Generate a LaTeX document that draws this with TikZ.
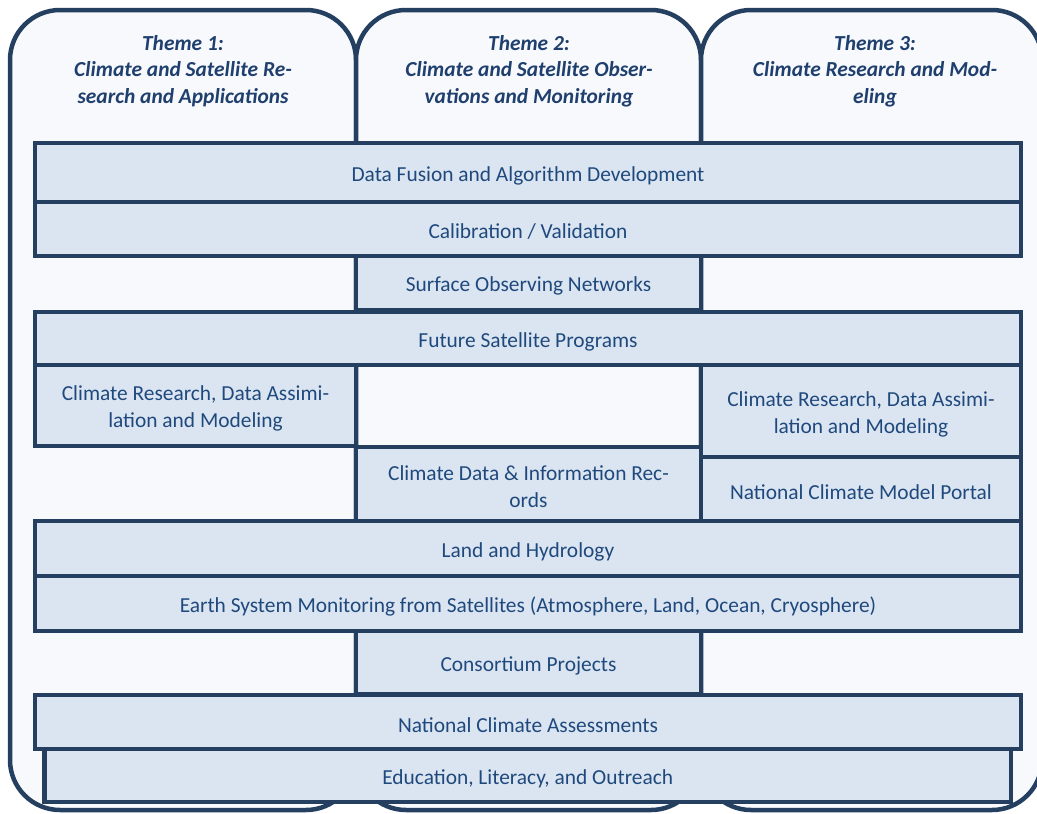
\documentclass[tikz,border=0pt]{standalone}
\usepackage{fontspec}
\setmainfont{Carlito}
\definecolor{navy}{HTML}{243F60}
\definecolor{txtc}{HTML}{1F497D}
\definecolor{ttlc}{HTML}{1F3F6E}
\definecolor{boxfill}{HTML}{DBE5F1}
\definecolor{colfill}{HTML}{F7F9FC}
\newcommand\pbox[6]{%
  \node[bx, minimum width={#4pt-#2pt}, minimum height={#5pt-#3pt}] (#1) at ({(#2+#4)/2},{(#3+#5)/2}) {};
  \node[lbl] (#1-text) at ([yshift=-3pt]#1.center) {#6};}
\begin{document}
\begin{tikzpicture}[x=1pt,y=-1pt,
  colbox/.style={draw=navy, line width=4.5pt, fill=colfill, rounded corners=50pt},
  bx/.style={draw=navy, line width=4.5pt, fill=boxfill, inner sep=0pt},
  lbl/.style={text=txtc, align=center, inner sep=0pt, font=\fontsize{21.4}{27}\selectfont},
  ttl/.style={text=ttlc, align=center, inner sep=0pt, font=\fontsize{21.4}{26.5}\selectfont\bfseries\itshape}]
\useasboundingbox (0,0) rectangle (1037,814);
\fill[white] (0,0) rectangle (1037,814);
% theme columns
\draw[colbox] (10,10) rectangle (356,810);
\draw[colbox] (356,10) rectangle (701,810);
\draw[colbox] (701,10) rectangle (1042,810);
\node[ttl] (t1) at (183,71) {Theme 1:\\Climate and Satellite Re-\\search and Applications};
\node[ttl] (t2) at (529,71) {Theme 2:\\Climate and Satellite Obser-\\vations and Monitoring};
\node[ttl] (t3) at (875,71) {Theme 3:\\Climate Research and Mod-\\eling};
% boxes
\pbox{df}{35}{143}{1021}{202}{Data Fusion and Algorithm Development}
\pbox{cv}{35}{202}{1021}{256}{Calibration / Validation}
\pbox{son}{356}{256}{701}{310.5}{Surface Observing Networks}
\pbox{fsp}{35}{312}{1021}{365}{Future Satellite Programs}
\pbox{crl}{35}{365}{356}{446}{Climate Research, Data Assimi-\\lation and Modeling}
\pbox{crr}{701}{365}{1021}{457}{Climate Research, Data Assimi-\\lation and Modeling}
\pbox{cdir}{356}{447}{701}{521}{Climate Data \& Information Rec-\\ords}
\pbox{ncmp}{701}{457}{1021}{521}{National Climate Model Portal}
\pbox{lh}{35}{521}{1021}{576}{Land and Hydrology}
\pbox{esm}{35}{576}{1021}{631}{Earth System Monitoring from Satellites (Atmosphere, Land, Ocean, Cryosphere)}
\pbox{cp}{356}{631}{701}{694}{Consortium Projects}
\pbox{nca}{35}{695}{1021}{749}{National Climate Assessments}
\pbox{elo}{44.5}{749}{1011}{802}{Education, Literacy, and Outreach}
\end{tikzpicture}
\end{document}
